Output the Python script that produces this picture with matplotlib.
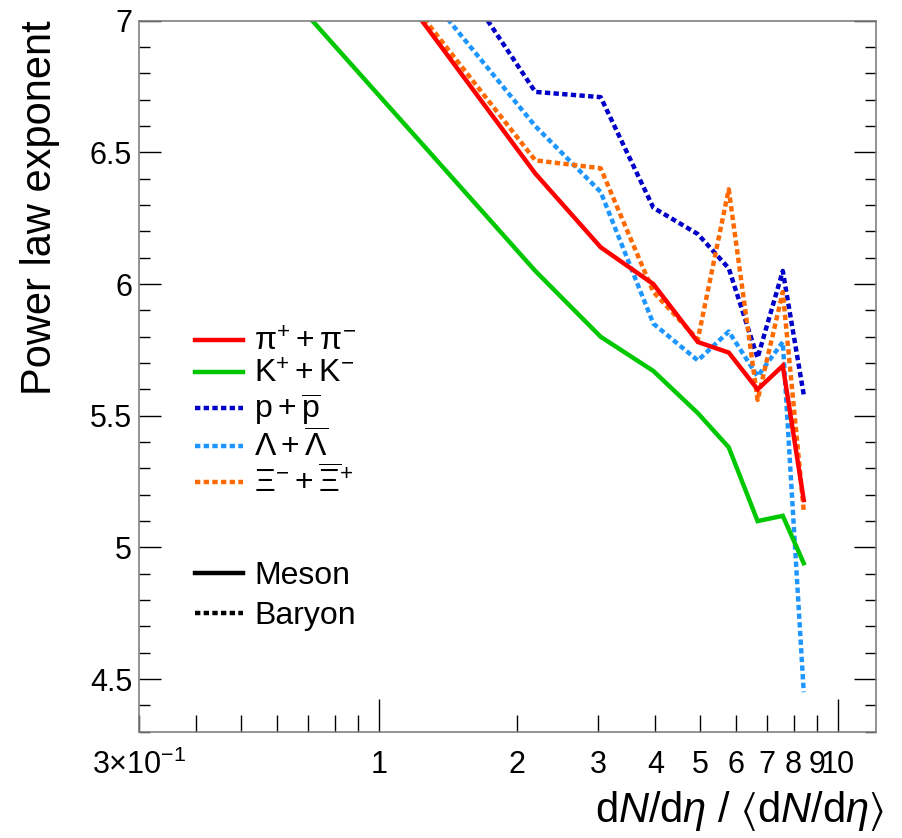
import matplotlib
matplotlib.use("Agg")
import matplotlib.pyplot as plt
from matplotlib.ticker import FixedLocator, FixedFormatter, MultipleLocator, FormatStrFormatter
from matplotlib.lines import Line2D

plt.rcParams['font.family'] = ['Liberation Sans', 'DejaVu Sans']
plt.rcParams['mathtext.fontset'] = 'custom'
plt.rcParams['mathtext.rm'] = 'Liberation Sans'
plt.rcParams['mathtext.it'] = 'Liberation Sans:italic'
plt.rcParams['mathtext.bf'] = 'Liberation Sans:bold'
plt.rcParams['mathtext.fallback'] = 'stixsans'

# Multiplicity (relative) and fitted power-law exponents
mult   = [0.6, 1.29, 2.19, 3.04, 3.96, 4.95, 5.78, 6.68, 7.58, 8.42]
pion   = [7.74, 6.96, 6.42, 6.14, 6.00, 5.78, 5.74, 5.60, 5.69, 5.18]
kaon   = [7.15, 6.50, 6.05, 5.80, 5.67, 5.51, 5.38, 5.10, 5.12, 4.94]
proton = [8.00, 7.33, 6.73, 6.71, 6.29, 6.19, 6.06, 5.72, 6.05, 5.58]
lam    = [7.80, 7.09, 6.60, 6.35, 5.85, 5.71, 5.82, 5.65, 5.78, 4.45]
xi     = [7.69, 6.98, 6.47, 6.44, 5.97, 5.79, 6.36, 5.56, 5.97, 5.14]

labels = [r'$\mathrm{\pi}^{+} + \mathrm{\pi}^{-}$',
          r'$\mathrm{K}^{+} + \mathrm{K}^{-}$',
          r'$\mathrm{p} + \overline{\mathrm{p}}$',
          r'$\Lambda + \overline{\Lambda}$',
          r'$\Xi^{-} + \overline{\Xi}^{+}$']
colors = ['#ff0000', '#00c800', '#0000c8', '#1e96ff', '#ff6a00']

xticks_minor = [0.3, 0.4, 0.5, 0.6, 0.7, 0.8, 0.9, 2, 3, 4, 5, 6, 7, 8, 9]
xlabels_minor = [r'$3{\times}10^{-1}$', '', '', '', '', '', '',
                 '2', '3', '4', '5', '6', '7', '8', '9']

lw = 3.2
dot = (0, (1.2, 0.75))

fig = plt.figure(figsize=(9.02, 8.38), dpi=100)
ax = fig.add_axes([0.1541, 0.1268, 0.8171, 0.8484])

series = [proton, lam, xi, kaon, pion]
order = [2, 3, 4, 1, 0]
for s, i in zip(series, order):
    ls = '-' if i < 2 else dot
    ax.plot(mult, s, color=colors[i], lw=lw, linestyle=ls,
            solid_joinstyle='miter', dash_capstyle='butt')

ax.set_xscale('log')
ax.set_xlim(0.3, 12.1)
ax.set_ylim(4.3, 7.0)

ax.xaxis.set_major_locator(FixedLocator([1, 10]))
ax.xaxis.set_major_formatter(FixedFormatter(['1', '10']))
ax.xaxis.set_minor_locator(FixedLocator(xticks_minor))
ax.xaxis.set_minor_formatter(FixedFormatter(xlabels_minor))
ax.yaxis.set_major_locator(MultipleLocator(0.5))
ax.yaxis.set_minor_locator(MultipleLocator(0.1))
ax.yaxis.set_major_formatter(FormatStrFormatter('%g'))

ax.tick_params(axis='both', which='both', direction='in', labelsize=22,
               color='black', width=1.0)
ax.tick_params(axis='y', which='both', left=True, right=True)
ax.tick_params(axis='y', which='major', length=16, pad=5)
ax.tick_params(axis='y', which='minor', length=8)
ax.tick_params(axis='x', which='major', length=24, pad=13)
ax.tick_params(axis='x', which='minor', length=12, pad=13)
for sp in ax.spines.values():
    sp.set_color('#808080')
    sp.set_linewidth(1.2)

fig.text(0.044, 1 - 20 / 838, 'Power law exponent', rotation=90,
         ha='center', va='top', fontsize=30)
fig.text(884 / 902, 0.006,
         r'd$\it{N}$/d$\it{\eta}$ / $\langle$d$\it{N}$/d$\it{\eta}\rangle$',
         ha='right', va='bottom', fontsize=30)

handles = [Line2D([], [], color=colors[i], lw=lw,
                  linestyle='-' if i < 2 else dot) for i in range(5)]
leg1 = ax.legend(handles, labels, loc='upper left', bbox_to_anchor=(0.076, 0.568),
                 frameon=False, fontsize=23, handlelength=1.5, handletextpad=0.35,
                 labelspacing=0.06, borderpad=0, borderaxespad=0)
ax.add_artist(leg1)

types = ['Meson', 'Baryon']
handles2 = [Line2D([], [], color='black', lw=lw, linestyle='-'),
            Line2D([], [], color='black', lw=lw, linestyle=dot)]
ax.legend(handles2, types, loc='upper left', bbox_to_anchor=(0.076, 0.24),
          frameon=False, fontsize=23, handlelength=1.5, handletextpad=0.35,
          labelspacing=0.3, borderpad=0, borderaxespad=0)

fig.savefig('out.png', dpi=100)
